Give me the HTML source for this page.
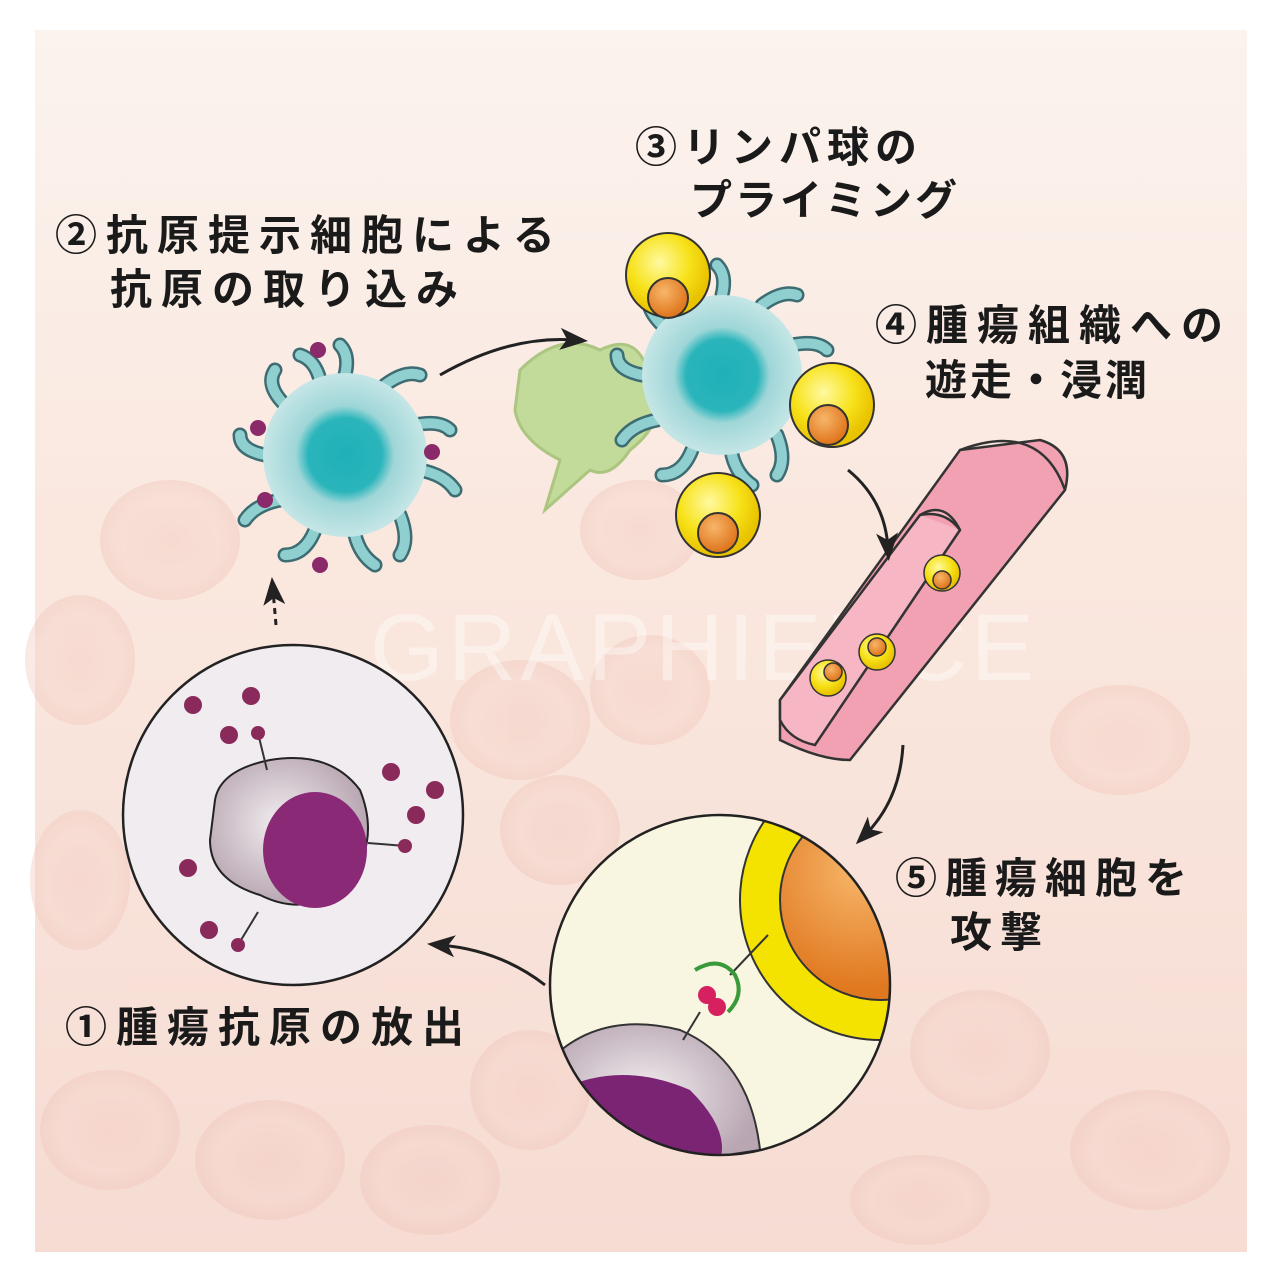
<!DOCTYPE html>
<html><head><meta charset="utf-8"><style>
html,body{margin:0;padding:0;background:#fff;}
svg{display:block}
text{font-family:"Liberation Sans","Noto Sans CJK JP",sans-serif;font-weight:bold;fill:#1a1a1a;}
</style></head><body>
<svg width="1280" height="1280" viewBox="0 0 1280 1280" xmlns="http://www.w3.org/2000/svg">
<defs>
<linearGradient id="bg" x1="0" y1="0" x2="0" y2="1">
<stop offset="0" stop-color="#fbf3ee"/><stop offset="0.4" stop-color="#fae8df"/><stop offset="1" stop-color="#f6dcd3"/>
</linearGradient>
<radialGradient id="cell" cx="0.5" cy="0.5" r="0.5">
<stop offset="0" stop-color="#f3c8bf"/><stop offset="0.7" stop-color="#f5d3c9"/><stop offset="1" stop-color="#f0c3b8"/>
</radialGradient>
<radialGradient id="dc" cx="0.5" cy="0.5" r="0.5">
<stop offset="0" stop-color="#1fb0b8"/><stop offset="0.45" stop-color="#2ab5bb"/><stop offset="0.6" stop-color="#9fd6d8"/><stop offset="1" stop-color="#c6e6e6"/>
</radialGradient>
<radialGradient id="yb" cx="0.4" cy="0.35" r="0.6">
<stop offset="0" stop-color="#fff9a0"/><stop offset="0.6" stop-color="#f7e21a"/><stop offset="1" stop-color="#e9c300"/>
</radialGradient>
<radialGradient id="ob" cx="0.4" cy="0.35" r="0.6">
<stop offset="0" stop-color="#f7b66a"/><stop offset="1" stop-color="#e0781f"/>
</radialGradient>
<radialGradient id="tc" cx="0.45" cy="0.45" r="0.55">
<stop offset="0" stop-color="#f2eef0"/><stop offset="1" stop-color="#b8a6b2"/>
</radialGradient>
<marker id="ah" markerWidth="30" markerHeight="30" refX="15" refY="15" orient="auto" markerUnits="userSpaceOnUse">
<path d="M0,4 L28,15 L0,26 L7,15 Z" fill="#222"/>
</marker>
</defs>
<rect width="1280" height="1280" fill="#fff"/>
<rect x="35" y="30" width="1212" height="1222" fill="url(#bg)"/>
<g opacity="0.4">
<ellipse cx="170" cy="540" rx="70" ry="60" fill="url(#cell)"/>
<ellipse cx="80" cy="660" rx="55" ry="65" fill="url(#cell)"/>
<ellipse cx="110" cy="1130" rx="70" ry="60" fill="url(#cell)"/>
<ellipse cx="270" cy="1160" rx="75" ry="60" fill="url(#cell)"/>
<ellipse cx="430" cy="1180" rx="70" ry="55" fill="url(#cell)"/>
<ellipse cx="530" cy="1090" rx="60" ry="60" fill="url(#cell)"/>
<ellipse cx="520" cy="720" rx="70" ry="60" fill="url(#cell)"/>
<ellipse cx="650" cy="690" rx="60" ry="55" fill="url(#cell)"/>
<ellipse cx="560" cy="830" rx="60" ry="55" fill="url(#cell)"/>
<ellipse cx="80" cy="880" rx="50" ry="70" fill="url(#cell)"/>
<ellipse cx="980" cy="1050" rx="70" ry="60" fill="url(#cell)"/>
<ellipse cx="1150" cy="1150" rx="80" ry="60" fill="url(#cell)"/>
<ellipse cx="920" cy="1200" rx="70" ry="45" fill="url(#cell)"/>
<ellipse cx="1120" cy="740" rx="70" ry="55" fill="url(#cell)"/>
<ellipse cx="640" cy="530" rx="60" ry="50" fill="url(#cell)"/>
</g>
<text x="370" y="680" font-size="95" style="font-weight:normal;fill:#ffffff;opacity:0.4;letter-spacing:4px">GRAPHIENCE</text>

<text x="55" y="250" font-size="42" letter-spacing="9">②抗原提示細胞による</text>
<text x="110" y="304" font-size="42" letter-spacing="9">抗原の取り込み</text>
<text x="635" y="162" font-size="42" letter-spacing="6">③リンパ球の</text>
<text x="690" y="215" font-size="42" letter-spacing="3">プライミング</text>
<text x="875" y="340" font-size="42" letter-spacing="9">④腫瘍組織への</text>
<text x="925" y="395" font-size="42" letter-spacing="3">遊走・浸潤</text>
<text x="895" y="893" font-size="42" letter-spacing="8">⑤腫瘍細胞を</text>
<text x="950" y="947" font-size="42" letter-spacing="8">攻撃</text>
<text x="65" y="1042" font-size="42" letter-spacing="9">①腫瘍抗原の放出</text>

<g fill="#b9d88e" stroke="#9fc070" stroke-width="3" opacity="0.85">
<path d="M520,370 Q560,330 600,350 Q640,330 650,380 Q670,420 630,450 Q610,480 590,470 L545,510 L560,460 Q520,440 515,410 Z"/>
</g>

<g transform="translate(345,455)">
<g stroke="#3d6d73" stroke-width="15" stroke-linecap="round" fill="none">
<path d="M0,-80 Q5,-100 -5,-110"/><path d="M40,-70 Q60,-85 75,-80"/><path d="M70,-30 Q95,-35 105,-25"/>
<path d="M75,15 Q100,20 110,35"/><path d="M55,60 Q65,85 55,100"/><path d="M10,80 Q15,100 30,110"/>
<path d="M-30,75 Q-40,100 -60,100"/><path d="M-65,45 Q-90,50 -100,65"/><path d="M-80,0 Q-105,-5 -105,-20"/>
<path d="M-60,-50 Q-80,-70 -70,-85"/><path d="M-25,-75 Q-30,-95 -45,-100"/>
</g>
<g stroke="#8fcfd0" stroke-width="10" stroke-linecap="round" fill="none">
<path d="M0,-80 Q5,-100 -5,-110"/><path d="M40,-70 Q60,-85 75,-80"/><path d="M70,-30 Q95,-35 105,-25"/>
<path d="M75,15 Q100,20 110,35"/><path d="M55,60 Q65,85 55,100"/><path d="M10,80 Q15,100 30,110"/>
<path d="M-30,75 Q-40,100 -60,100"/><path d="M-65,45 Q-90,50 -100,65"/><path d="M-80,0 Q-105,-5 -105,-20"/>
<path d="M-60,-50 Q-80,-70 -70,-85"/><path d="M-25,-75 Q-30,-95 -45,-100"/>
</g>
<circle r="82" fill="url(#dc)"/>
</g>
<g fill="#8a2a6a">
<circle cx="318" cy="350" r="8"/><circle cx="258" cy="428" r="8"/><circle cx="432" cy="452" r="8"/><circle cx="320" cy="565" r="8"/><circle cx="265" cy="500" r="8"/>
</g>

<g transform="translate(722,375)">
<g stroke="#3d6d73" stroke-width="15" stroke-linecap="round" fill="none">
<path d="M0,-80 Q5,-100 -5,-110"/><path d="M40,-70 Q60,-85 75,-80"/><path d="M70,-30 Q95,-35 105,-25"/>
<path d="M75,15 Q100,20 110,35"/><path d="M55,60 Q65,85 55,100"/><path d="M10,80 Q15,100 30,110"/>
<path d="M-30,75 Q-40,100 -60,100"/><path d="M-65,45 Q-90,50 -100,65"/><path d="M-80,0 Q-105,-5 -105,-20"/>
<path d="M-60,-50 Q-80,-70 -70,-85"/><path d="M-25,-75 Q-30,-95 -45,-100"/>
</g>
<g stroke="#8fcfd0" stroke-width="10" stroke-linecap="round" fill="none">
<path d="M0,-80 Q5,-100 -5,-110"/><path d="M40,-70 Q60,-85 75,-80"/><path d="M70,-30 Q95,-35 105,-25"/>
<path d="M75,15 Q100,20 110,35"/><path d="M55,60 Q65,85 55,100"/><path d="M10,80 Q15,100 30,110"/>
<path d="M-30,75 Q-40,100 -60,100"/><path d="M-65,45 Q-90,50 -100,65"/><path d="M-80,0 Q-105,-5 -105,-20"/>
<path d="M-60,-50 Q-80,-70 -70,-85"/><path d="M-25,-75 Q-30,-95 -45,-100"/>
</g>
<circle r="80" fill="url(#dc)"/>
</g>
<g stroke="#333" stroke-width="2">
<circle cx="668" cy="275" r="42" fill="url(#yb)"/><circle cx="668" cy="298" r="20" fill="url(#ob)"/>
<circle cx="832" cy="405" r="42" fill="url(#yb)"/><circle cx="828" cy="425" r="20" fill="url(#ob)"/>
<circle cx="718" cy="515" r="42" fill="url(#yb)"/><circle cx="718" cy="533" r="20" fill="url(#ob)"/>
</g>

<g stroke="#333" stroke-width="2.5">
<path d="M1040,440 Q1075,450 1065,490 L850,760 Q820,760 780,740 L780,700 L960,450 Z" fill="#f1a1b1"/>
<path d="M920,515 Q945,500 960,530 L815,745 Q790,740 780,720 L780,700 Z" fill="#f6b6c3"/>
<path d="M960,450 Q1040,420 1065,490" fill="none"/>
<path d="M920,515 Q945,510 960,530" fill="#f2a0b2"/>
</g>
<g stroke="#333" stroke-width="1.5">
<circle cx="942" cy="573" r="18" fill="url(#yb)"/><circle cx="942" cy="580" r="9" fill="url(#ob)"/>
<circle cx="877" cy="652" r="18" fill="url(#yb)"/><circle cx="877" cy="647" r="9" fill="url(#ob)"/>
<circle cx="828" cy="678" r="18" fill="url(#yb)"/><circle cx="833" cy="672" r="9" fill="url(#ob)"/>
</g>

<circle cx="293" cy="815" r="170" fill="#f0ecf0" stroke="#222" stroke-width="2.5"/>
<path d="M215,800 Q220,770 270,760 Q330,750 360,790 Q380,840 350,880 Q310,920 260,895 Q210,880 210,840 Z" fill="url(#tc)" stroke="#222" stroke-width="2"/>
<ellipse cx="315" cy="850" rx="52" ry="58" fill="#8a2a76"/>
<g stroke="#333" stroke-width="2"><line x1="267" y1="770" x2="258" y2="733"/><line x1="368" y1="843" x2="405" y2="846"/><line x1="258" y1="912" x2="238" y2="945"/></g>
<g fill="#8a2a5a"><circle cx="258" cy="733" r="7"/><circle cx="405" cy="846" r="7"/><circle cx="238" cy="945" r="7"/>
<circle cx="193" cy="705" r="9"/><circle cx="251" cy="696" r="9"/><circle cx="229" cy="735" r="9"/><circle cx="391" cy="772" r="9"/><circle cx="435" cy="790" r="9"/><circle cx="416" cy="815" r="9"/><circle cx="188" cy="868" r="9"/><circle cx="209" cy="930" r="9"/></g>

<clipPath id="rc"><circle cx="720" cy="985" r="170"/></clipPath>
<circle cx="720" cy="985" r="170" fill="#f8f6e0"/>
<g clip-path="url(#rc)">
<circle cx="880" cy="900" r="140" fill="#f4e300" stroke="#333" stroke-width="2"/>
<circle cx="880" cy="900" r="100" fill="url(#ob)" stroke="#333" stroke-width="2"/>
<path d="M550,1060 Q600,1010 680,1030 Q750,1060 760,1150 L560,1180 Z" fill="url(#tc)" stroke="#333" stroke-width="2"/>
<path d="M560,1090 Q620,1060 690,1090 Q730,1130 720,1160 L560,1180 Z" fill="#7c2474"/>
</g>
<g stroke="#333" stroke-width="2" fill="none"><line x1="768" y1="935" x2="730" y2="975"/><line x1="700" y1="1012" x2="683" y2="1040"/></g>
<path d="M695,970 Q720,955 735,975 Q745,995 728,1012" fill="none" stroke="#3a9a3a" stroke-width="4"/>
<circle cx="707" cy="995" r="9" fill="#d62060"/><circle cx="717" cy="1007" r="9" fill="#d62060"/>
<circle cx="720" cy="985" r="170" fill="none" stroke="#222" stroke-width="2.5"/>

<g stroke="#222" stroke-width="3" fill="none">
<path d="M440,375 Q510,335 575,340" marker-end="url(#ah)"/>
<path d="M848,470 Q885,500 888,548" marker-end="url(#ah)"/>
<path d="M903,745 Q900,800 865,835" marker-end="url(#ah)"/>
<path d="M545,985 Q500,950 440,945" marker-end="url(#ah)"/>
<path d="M276,625 L273,590" stroke-dasharray="6,5" marker-end="url(#ah)"/>
</g>
</svg>
</body></html>
